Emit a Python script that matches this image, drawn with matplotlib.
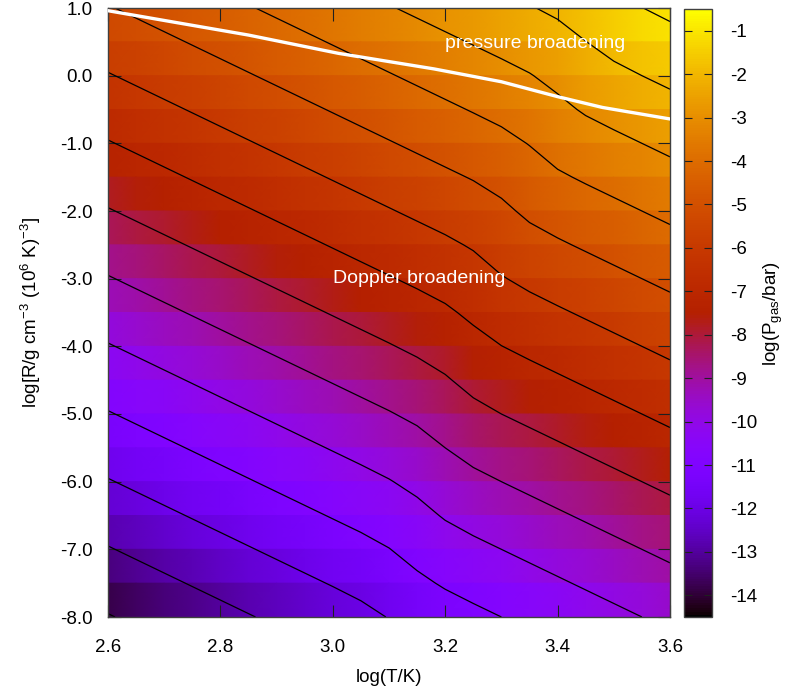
import matplotlib
matplotlib.use("Agg")
import matplotlib.pyplot as plt
import numpy as np

plt.rcParams['font.family'] = ['Liberation Sans', 'DejaVu Sans']
plt.rcParams['mathtext.fontset'] = 'custom'
plt.rcParams['mathtext.rm'] = 'Liberation Sans'
plt.rcParams['mathtext.it'] = 'Liberation Sans:italic'
plt.rcParams['mathtext.default'] = 'regular'

# grid of the table: log T columns, log R rows
log_t = [2.60, 2.65, 2.70, 2.75, 2.80, 2.85, 2.90, 2.95, 3.00, 3.05, 3.10,
         3.15, 3.20, 3.25, 3.30, 3.35, 3.40, 3.45, 3.50, 3.55, 3.60]
log_r = [1.0, 0.5, 0.0, -0.5, -1.0, -1.5, -2.0, -2.5, -3.0, -3.5,
         -4.0, -4.5, -5.0, -5.5, -6.0, -6.5, -7.0, -7.5, -8.0]

# log(P_gas/bar) at log R = 0 for molecular gas, per log T column
p_mol = [-6.05, -5.85, -5.65, -5.45, -5.25, -5.05, -4.85, -4.65, -4.45, -4.25, -4.05,
         -3.85, -3.65, -3.45, -3.25, -3.05, -2.85, -2.65, -2.45, -2.25, -2.05]

# extra pressure from H2 dissociation, in 0.01 dex (rows follow log_r)
dissoc = [
    [0, 0, 0, 0, 0, 0, 0, 0, 0, 0, 0, 0, 0, 0, 0, 0, 1, 7, 20, 24, 25],
    [0, 0, 0, 0, 0, 0, 0, 0, 0, 0, 0, 0, 0, 0, 0, 0, 3, 14, 23, 25, 25],
    [0, 0, 0, 0, 0, 0, 0, 0, 0, 0, 0, 0, 0, 0, 0, 1, 8, 21, 24, 25, 25],
    [0, 0, 0, 0, 0, 0, 0, 0, 0, 0, 0, 0, 0, 0, 0, 3, 15, 24, 25, 25, 25],
    [0, 0, 0, 0, 0, 0, 0, 0, 0, 0, 0, 0, 0, 0, 1, 8, 21, 24, 25, 25, 25],
    [0, 0, 0, 0, 0, 0, 0, 0, 0, 0, 0, 0, 0, 0, 3, 15, 24, 25, 25, 25, 25],
    [0, 0, 0, 0, 0, 0, 0, 0, 0, 0, 0, 0, 0, 1, 8, 21, 24, 25, 25, 25, 25],
    [0, 0, 0, 0, 0, 0, 0, 0, 0, 0, 0, 0, 0, 3, 15, 24, 25, 25, 25, 25, 25],
    [0, 0, 0, 0, 0, 0, 0, 0, 0, 0, 0, 0, 1, 7, 20, 24, 25, 25, 25, 25, 25],
    [0, 0, 0, 0, 0, 0, 0, 0, 0, 0, 0, 0, 2, 12, 23, 25, 25, 25, 25, 25, 25],
    [0, 0, 0, 0, 0, 0, 0, 0, 0, 0, 0, 1, 4, 17, 24, 25, 25, 25, 25, 25, 25],
    [0, 0, 0, 0, 0, 0, 0, 0, 0, 0, 0, 1, 7, 20, 24, 25, 25, 25, 25, 25, 25],
    [0, 0, 0, 0, 0, 0, 0, 0, 0, 0, 0, 2, 11, 22, 25, 25, 25, 25, 25, 25, 25],
    [0, 0, 0, 0, 0, 0, 0, 0, 0, 0, 0, 3, 15, 24, 25, 25, 25, 25, 25, 25, 25],
    [0, 0, 0, 0, 0, 0, 0, 0, 0, 0, 1, 6, 19, 24, 25, 25, 25, 25, 25, 25, 25],
    [0, 0, 0, 0, 0, 0, 0, 0, 0, 0, 1, 10, 22, 25, 25, 25, 25, 25, 25, 25, 25],
    [0, 0, 0, 0, 0, 0, 0, 0, 0, 0, 3, 14, 23, 25, 25, 25, 25, 25, 25, 25, 25],
    [0, 0, 0, 0, 0, 0, 0, 0, 0, 1, 5, 18, 24, 25, 25, 25, 25, 25, 25, 25, 25],
    [0, 0, 0, 0, 0, 0, 0, 0, 0, 1, 8, 21, 24, 25, 25, 25, 25, 25, 25, 25, 25],
]

# boundary between pressure and Doppler broadening
border_t = [2.60, 2.85, 3.01, 3.18, 3.30, 3.40, 3.48, 3.60]
border_r = [0.96, 0.60, 0.33, 0.10, -0.09, -0.31, -0.47, -0.64]

contour_levels = list(range(-14, 0))
x_ticks = [2.6, 2.8, 3.0, 3.2, 3.4, 3.6]
y_ticks = [1.0, 0.0, -1.0, -2.0, -3.0, -4.0, -5.0, -6.0, -7.0, -8.0]
cb_ticks = list(range(-14, 0))

t = np.array(log_t)
r = np.array(log_r)
log_p = r[:, None] + np.array(p_mol)[None, :] + np.array(dissoc) / 100.0

# pm3d-like bands: each band gets the mean of its two bounding rows
band = 0.5 * (log_p[:-1] + log_p[1:])
yy = np.column_stack([r[:-1], r[1:]]).ravel()
Y = np.repeat(yy[:, None], len(t), axis=1)
X = np.tile(t, (len(yy), 1))
C = np.repeat(band, 2, axis=0)

fig = plt.figure(figsize=(7.89, 6.96), dpi=100)
ax = fig.add_axes([108 / 789, 1 - 617 / 696, 562 / 789, 609 / 696])

mesh = ax.pcolormesh(X, Y, C, shading='gouraud', cmap='gnuplot',
                     vmin=-14.5, vmax=-0.5, rasterized=True)
ax.contour(t, r, log_p, levels=contour_levels, colors='black',
           linewidths=0.9, linestyles='solid')
ax.plot(border_t, border_r, color='white', linewidth=2.4, zorder=5)

ax.text(3.2, 0.47, 'pressure broadening', color='white', fontsize=14, va='center')
ax.text(3.0, -3.0, 'Doppler broadening', color='white', fontsize=14, va='center')

fs = 13.5
ax.set_xlim(2.6, 3.6)
ax.set_ylim(-8.0, 1.0)
ax.set_xticks(x_ticks, labels=[f'{v:.1f}' for v in x_ticks])
ax.set_yticks(y_ticks, labels=[f'{v:.1f}' for v in y_ticks])
ax.tick_params(direction='in', top=True, right=True, length=9, width=0.8,
               labelsize=fs, color='#202020')
ax.tick_params(axis='x', pad=16)
ax.tick_params(axis='y', pad=11)
for s in ax.spines.values():
    s.set_color('#404040')
    s.set_linewidth(1.0)

ax.set_xlabel('log(T/K)', fontsize=fs, labelpad=9)
ax.set_ylabel('log[R/g cm$^{-3}$ (10$^{6}$ K)$^{-3}$]', fontsize=fs, labelpad=12)

cax = fig.add_axes([684 / 789, 1 - 617 / 696, 28 / 789, 608 / 696])
cb = fig.colorbar(mesh, cax=cax)
cb.set_ticks(cb_ticks, labels=[str(v) for v in cb_ticks])
cax.tick_params(direction='in', left=True, right=True, length=6, width=0.8,
                labelsize=fs, pad=13, color='#202020')
cb.outline.set_edgecolor('#404040')
cb.outline.set_linewidth(1.0)
cb.set_label('log(P$_{gas}$/bar)', fontsize=fs, labelpad=3)

fig.savefig('out.png', dpi=100)
